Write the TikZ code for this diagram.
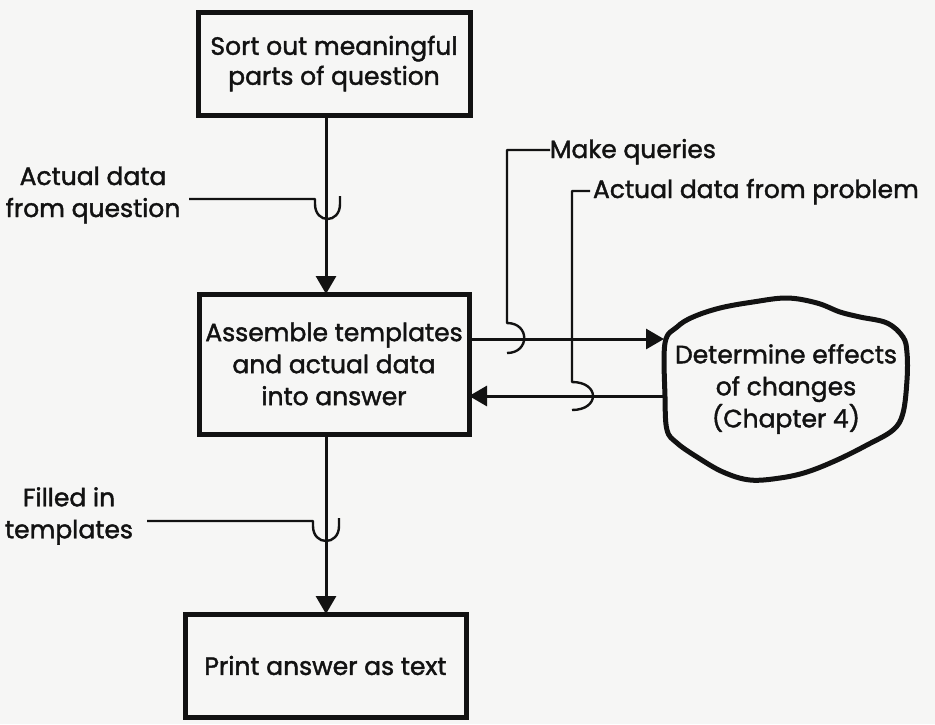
\documentclass[tikz,border=0pt]{standalone}
\usepackage{fontspec}
\setmainfont{Poppins}[FakeBold=1.6]
\usetikzlibrary{arrows.meta}
\definecolor{paper}{RGB}{246,246,245}
\definecolor{ink}{RGB}{18,18,18}
\tikzset{
  every node/.style={text=ink, inner sep=0pt, outer sep=0pt},
  lbl/.style={align=center, font=\fontsize{25}{32}\selectfont},
  stepbox/.style={draw=ink, line width=5pt, rectangle, align=center,
    font=\fontsize{25}{32}\selectfont},
  thinline/.style={draw=ink, line width=2.4pt},
  flow/.style={draw=ink, line width=3pt,
    -{Triangle[length=18pt,width=20pt]}},
}
\begin{document}
\begin{tikzpicture}[x=1pt,y=-1pt]
\fill[paper] (0,0) rectangle (935,724);
\useasboundingbox (0,0) rectangle (935,724);

% process boxes
\node[stepbox, minimum width=272pt, minimum height=103pt,
  font=\fontsize{25}{30}\selectfont] (sort) at (334,63.5)
  {Sort out meaningful\\parts of question};
\node[stepbox, minimum width=270pt, minimum height=140pt] (assemble) at (334,364)
  {Assemble templates\\and actual data\\into answer};
\node[stepbox, minimum width=281pt, minimum height=103pt] (print) at (325.5,665.5)
  {Print answer as text};

% irregular outline of the external process
\draw[ink, line width=5pt, line join=round]
  plot[smooth cycle, tension=0.6] coordinates {
  (665,343) (665,397) (667,430) (677,443) (697,457) (723,472) (750,480)
  (780,478) (807,472) (837,460) (867,445) (893,430) (903,413) (907,380)
  (907,353) (903,337) (887,323) (860,317) (840,312) (817,303) (787,298)
  (753,302) (720,308) (693,317) (677,327)};
\node[lbl] (effects) at (786,389) {Determine effects\\of changes\\(Chapter 4)};
\coordinate (effin) at (664,339);
\coordinate (effout) at (666,396);

% side inputs
\node[lbl] (qdata) at (93,195) {Actual data\\from question};
\node[lbl] (filled) at (69,516) {Filled in\\templates};
\node[lbl, anchor=base west] (queries) at (550,158) {Make queries};
\node[lbl, anchor=base west] (pdata) at (593,198) {Actual data from problem};

% main spine
\coordinate (spine) at (326,0);
\draw[flow] (spine |- sort.south) -- (spine |- assemble.north);
\draw[flow] (spine |- assemble.south) -- (spine |- print.north);

% inputs joining the spine
\coordinate (qstart) at (189,199);
\draw[thinline, line join=round] (qstart) -- (315,199) -- (315,204)
  .. controls (315,224) and (340,224) .. (340,204) -- (340,196);
\coordinate (fstart) at (147,521);
\draw[thinline, line join=round] (fstart) -- (313,521) -- (313,526)
  .. controls (313,546) and (339,546) .. (339,526) -- (339,518);

% exchange with the external process
\draw[flow] (assemble.east |- effin) -- (effin);
\draw[flow] (effout) -- (assemble.east |- effout);

% queries and problem data feeding the exchange lines
\coordinate (qtop) at (507,150);
\draw[thinline, line join=round] (queries.west |- qtop) -- (qtop) -- (507,323)
  .. controls (530,323) and (530,353) .. (507,353);
\coordinate (ptop) at (572,191);
\draw[thinline, line join=round] (pdata.west |- ptop) ++(-3,0) -- (ptop) -- (572,382)
  .. controls (600,382) and (600,410) .. (572,410);
\end{tikzpicture}
\end{document}
